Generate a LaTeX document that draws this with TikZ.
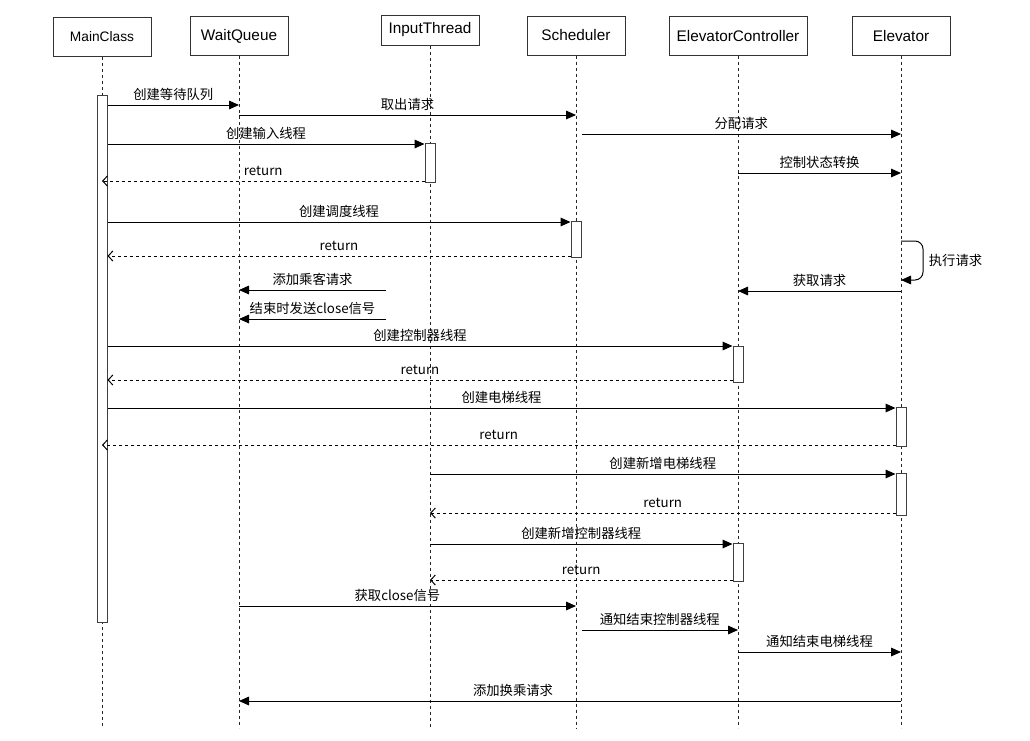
\documentclass[tikz,border=0pt]{standalone}
\usepackage{fontspec}
\setmainfont{Liberation Sans}
\newfontfamily\cjk{Noto Sans CJK SC}
\usetikzlibrary{arrows.meta}

\tikzset{
  head/.style={draw=black!80, fill=white, inner sep=0pt,
    minimum width=73.5pt, minimum height=29.25pt,
    font=\fontsize{11.5}{13}\selectfont},
  life/.style={dash pattern=on 2.25pt off 2.25pt, black!85},
  act/.style={draw=black!75, fill=white, inner sep=0pt,
    minimum width=7.5pt, anchor=north},
  call/.style={-{Triangle[length=7.5pt,width=6.5pt]}},
  back/.style={dash pattern=on 2.25pt off 2.25pt,
    -{Straight Barb[length=3.5pt,width=7.5pt]}},
  lbl/.style={above, inner sep=1.5pt, yshift=1.5pt,
    font=\cjk\fontsize{10}{11}\selectfont}
}

\begin{document}
\begin{tikzpicture}[x=0.75pt, y=-0.75pt, line width=0.75pt]
\useasboundingbox (0,0) rectangle (1030,740);

% lifelines
\node[head, font=\fontsize{10.3}{12}\selectfont] (mc) at (102,36.5) {MainClass};
\node[head] (wq) at (239,36) {WaitQueue};
\node[head, minimum height=22.5pt] (it) at (430,30) {InputThread};
\node[head] (sch) at (576,35.5) {Scheduler};
\node[head, minimum width=103.5pt] (ec) at (738,36) {ElevatorController};
\node[head] (el) at (901,36) {Elevator};

\foreach \n in {mc,wq,it,sch,ec,el}
  \draw[life] (\n.south) -- (\n |- 0,728);

% activations
\foreach \nm/\ln/\t/\h in {a1/mc/95/527, a2/it/143/39, a3/sch/221/36,
    a4/ec/346/36, a5/el/407/39, a6/el/473/42, a7/ec/543/38}
  \node[act, minimum height=\h*0.75pt] (\nm) at (\ln |- 0,\t) {};

% messages
\draw[call] (a1.east |- 0,105) -- node[lbl]{创建等待队列} (wq |- 0,105);
\draw[call] (wq |- 0,115) -- node[lbl]{取出请求} (sch |- 0,115);
\draw[call] (a3.east |- 0,134) -- node[lbl]{分配请求} (el |- 0,134);
\draw[call] (a1.east |- 0,144) -- node[lbl]{创建输入线程} (a2.west |- 0,144);
\draw[call] (ec |- 0,173) -- node[lbl]{控制状态转换} (el |- 0,173);
\draw[back] (a2.west |- 0,181) -- node[lbl, yshift=1pt]{return} (mc |- 0,181);
\draw[call] (a1.east |- 0,222) -- node[lbl]{创建调度线程} (a3.west |- 0,222);
\draw[back] (a3.west |- 0,256) -- node[lbl, yshift=1pt]{return} (a1.east |- 0,256);
\draw[call, rounded corners=6pt] (el |- 0,241) -- ++(22,0)
  |- node[lbl, pos=0.25, right, yshift=-1.5pt, inner sep=4pt]{执行请求} (el |- 0,280);
\draw[call] (el |- 0,291) -- node[lbl]{获取请求} (ec |- 0,291);
\draw[call] (386,290) coordinate (in1) -- node[lbl]{添加乘客请求} (wq |- in1);
\draw[call] (386,319) coordinate (in2) -- node[lbl]{结束时发送close信号} (wq |- in2);
\draw[call] (a1.east |- 0,346) -- node[lbl]{创建控制器线程} (a4.west |- 0,346);
\draw[back] (a4.west |- 0,380) -- node[lbl, yshift=1pt]{return} (a1.east |- 0,380);
\draw[call] (a1.east |- 0,408) -- node[lbl]{创建电梯线程} (a5.west |- 0,408);
\draw[back] (a5.west |- 0,445) -- node[lbl, yshift=1pt]{return} (mc |- 0,445);
\draw[call] (it |- 0,474) -- node[lbl]{创建新增电梯线程} (a6.west |- 0,474);
\draw[back] (a6.west |- 0,513) -- node[lbl, yshift=1pt]{return} (it |- 0,513);
\draw[call] (it |- 0,544) -- node[lbl]{创建新增控制器线程} (a7.west |- 0,544);
\draw[back] (a7.west |- 0,580) -- node[lbl, yshift=1pt]{return} (it |- 0,580);
\draw[call] (wq |- 0,606) -- node[lbl, pos=0.47]{获取close信号} (sch |- 0,606);
\draw[call] (a3.east |- 0,630) -- node[lbl]{通知结束控制器线程} (ec |- 0,630);
\draw[call] (ec |- 0,652) -- node[lbl]{通知结束电梯线程} (el |- 0,652);
\draw[call] (el |- 0,701) -- node[lbl, pos=0.586]{添加换乘请求} (wq |- 0,701);
\end{tikzpicture}
\end{document}
